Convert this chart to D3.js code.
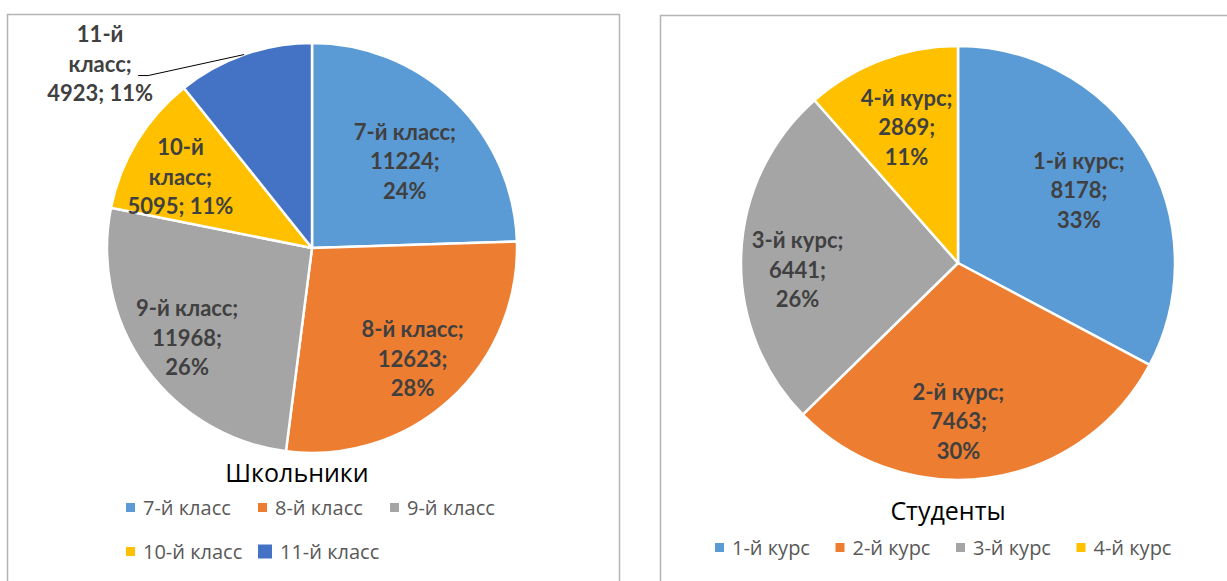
<!DOCTYPE html>
<html>
<head>
<meta charset="utf-8">
<script src="https://cdn.jsdelivr.net/npm/d3@7"></script>
<style>
  body { margin: 0; background: #fff; }
  svg text { font-family: "Open Sans", "Noto Sans", sans-serif; }
  .lbl { font-family: Lato, "Open Sans", sans-serif; font-weight: bold; font-size: 22px; fill: #404040; }
  .leg { font-size: 20px; fill: #595959; }
  .ttl { font-size: 25px; fill: #000; }
</style>
</head>
<body>
<svg id="chart" width="1227" height="581"></svg>
<script>
// pupils (left pie)
var schoolCats   = ["7-й класс", "8-й класс", "9-й класс", "10-й класс", "11-й класс"];
var schoolValues = [11224, 12623, 11968, 5095, 4923];
var schoolPcts   = ["24%", "28%", "26%", "11%", "11%"];

// students (right pie)
var uniCats   = ["1-й курс", "2-й курс", "3-й курс", "4-й курс"];
var uniValues = [8178, 7463, 6441, 2869];
var uniPcts   = ["33%", "30%", "26%", "11%"];

var colours = ["#5B9BD5", "#ED7D31", "#A5A5A5", "#FFC000", "#4472C4"];

var svg = d3.select("#chart");

/*
 * Draw one pie with its frame, labels, title and legend
 */
function drawPie(cfg) {

  var g = svg.append("g");

  // chart area frame
  g.append("rect")
    .attr("x",      cfg.frame[0])
    .attr("y",      cfg.frame[1])
    .attr("width",  cfg.frame[2])
    .attr("height", cfg.frame[3])
    .attr("fill",   "none")
    .attr("stroke", "#b4b4b4")
    .attr("stroke-width", 1.5);

  var pie = d3.pie().sort(null).value(function(d) { return d; });
  var arcs = pie(cfg.values);
  var arc = d3.arc().innerRadius(0).outerRadius(cfg.r);
  var colour = d3.scaleOrdinal().domain(cfg.cats).range(colours);

  var pg = g.append("g").attr("transform", "translate(" + cfg.cx + "," + cfg.cy + ")");

  pg.selectAll("path")
    .data(arcs)
    .enter()
    .append("path")
    .attr("d", arc)
    .attr("fill", function(d, i) { return colour(cfg.cats[i]); })
    .attr("stroke", "#fff")
    .attr("stroke-width", 2.5)
    .attr("stroke-linejoin", "round");

  // data labels
  arcs.forEach(function(a, i) {
    var lines = cfg.lines(i);
    var mid = (a.startAngle + a.endAngle) / 2 + (cfg.angleShift[i] || 0);
    var x, y;
    if (cfg.outside[i]) {
      // label outside, joined by a leader line
      var px = cfg.r * Math.sin(mid), py = -cfg.r * Math.cos(mid);
      x = px - 144; y = py + 9;
      pg.append("polyline")
        .attr("points", [[px, py], [px - 96, py + 21], [px - 106, py + 21]].join(" "))
        .attr("fill", "none")
        .attr("stroke", "#000")
        .attr("stroke-width", 1);
    } else {
      var rr = cfg.r * cfg.rf[i];
      x = rr * Math.sin(mid); y = -rr * Math.cos(mid);
    }
    var t = pg.append("text")
      .attr("class", "lbl")
      .attr("text-anchor", "middle");
    lines.forEach(function(s, k) {
      t.append("tspan")
        .attr("x", x)
        .attr("y", y + (k - (lines.length - 1) / 2) * 29.5 + 8)
        .text(s);
    });
  });

  // title
  g.append("text")
    .attr("class", "ttl")
    .attr("x", cfg.title[1])
    .attr("y", cfg.title[2])
    .attr("text-anchor", "middle")
    .text(cfg.title[0]);

  // legend
  cfg.cats.forEach(function(c, i) {
    var col = i % cfg.legCols, row = Math.floor(i / cfg.legCols);
    var lx = cfg.legX + col * cfg.legStep;
    var ly = cfg.legY + row * 44;
    var ms = (cfg.legBig === i) ? 14 : 9;
    g.append("rect")
      .attr("x", lx).attr("y", ly - 11 - (ms - 9) / 2 - 1)
      .attr("width", ms).attr("height", ms)
      .attr("fill", colour(c));
    g.append("text")
      .attr("class", "leg")
      .attr("x", lx + 17 + (ms - 9)).attr("y", ly)
      .text(c);
  });
}

drawPie({
  frame: [7.5, 14.5, 612, 600],
  cx: 312, cy: 248, r: 205,
  cats: schoolCats, values: schoolValues,
  lines: function(i) {
    var n = schoolCats[i].split(" ");
    if (i >= 3) return [n[0], n[1] + ";", schoolValues[i] + "; " + schoolPcts[i]];
    return [schoolCats[i] + ";", schoolValues[i] + ";", schoolPcts[i]];
  },
  rf: [0.62, 0.73, 0.75, 0.73, 1],
  angleShift: [0.05, 0, 0, -0.05, 0],
  outside: [false, false, false, false, true],
  title: ["Школьники", 297, 482],
  legX: 126, legY: 515, legCols: 3, legStep: 132, legBig: 4
});

drawPie({
  frame: [660.5, 15.5, 700, 600],
  cx: 958, cy: 263, r: 217,
  cats: uniCats, values: uniValues,
  lines: function(i) {
    return [uniCats[i] + ";", uniValues[i] + ";", uniPcts[i]];
  },
  rf: [0.65, 0.73, 0.74, 0.67],
  angleShift: [0, 0.14, -0.08, 0],
  outside: [false, false, false, false],
  title: ["Студенты", 948, 520],
  legX: 715, legY: 555, legCols: 4, legStep: 120.5
});
</script>
</body>
</html>
